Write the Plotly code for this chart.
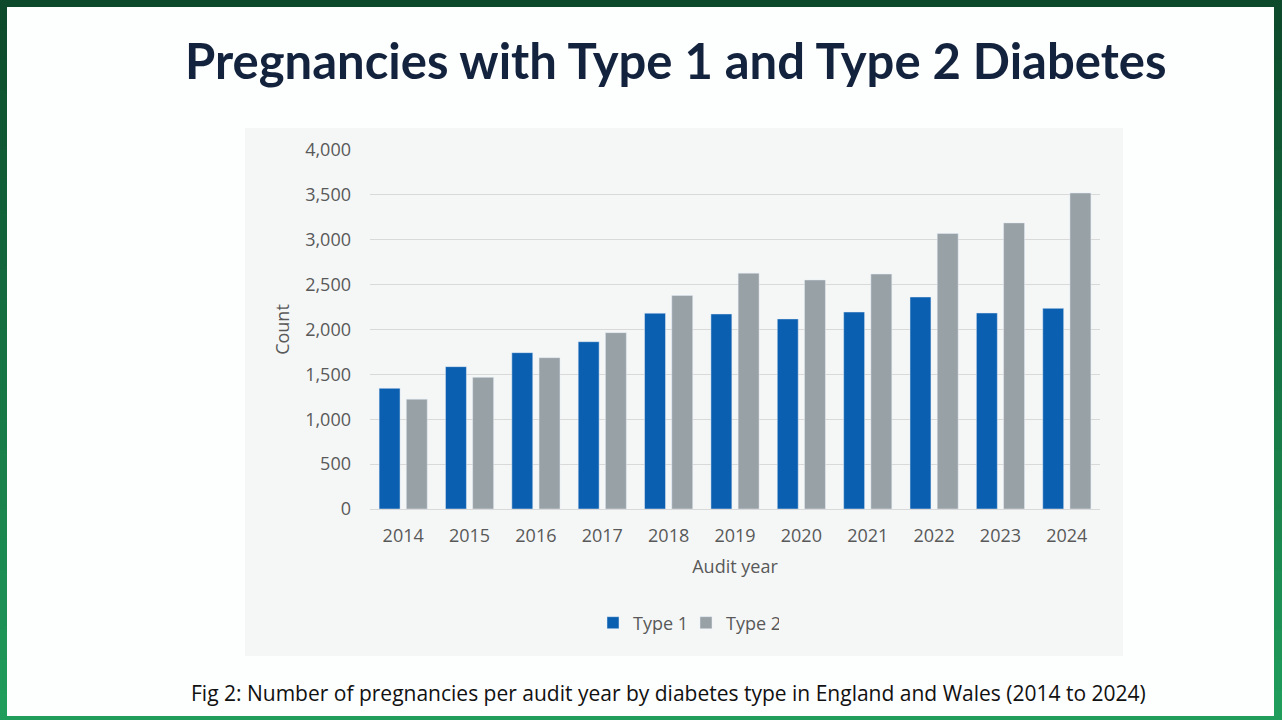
import plotly.graph_objects as go

years = ["2014", "2015", "2016", "2017", "2018", "2019", "2020", "2021", "2022", "2023", "2024"]
type1 = [1345, 1586, 1742, 1864, 2182, 2173, 2118, 2195, 2362, 2184, 2236]
type2 = [1224, 1467, 1686, 1965, 2380, 2628, 2552, 2618, 3070, 3188, 3521]
y_ticks = [0, 500, 1000, 1500, 2000, 2500, 3000, 3500, 4000]

W, H = 1282, 720
PL, PR, PT, PB = 370, 1100, 150, 509  # plot area in pixels

def px(x):
    return (x - PL) / (PR - PL)

def py(y):
    return (PB - y) / (PB - PT)

fig = go.Figure()
fig.add_trace(go.Bar(x=years, y=type1, name="Type 1", marker_color="#0a5fb0"))
fig.add_trace(go.Bar(x=years, y=type2, name="Type 2", marker_color="#98a1a6"))

shapes = []
n = 24
def lerp(c1, c2, t):
    return "#%02x%02x%02x" % tuple(int(round(a + (b - a) * t)) for a, b in zip(c1, c2))
c_top = (12, 72, 42)
c_bot = (32, 158, 92)
for i in range(n):
    y0p = i * H / n
    y1p = (i + 1) * H / n
    col = lerp(c_top, c_bot, (i + 0.5) / n)
    shapes.append(dict(type="rect", xref="paper", yref="paper", x0=px(0), x1=px(W), y0=py(y1p), y1=py(y0p),
                       fillcolor=col, line_width=0, layer="below"))
# white slide
shapes.append(dict(type="rect", xref="paper", yref="paper", x0=px(7), x1=px(1274), y0=py(716), y1=py(7),
                   fillcolor="#fdfefe", line_width=0, layer="below"))
# chart background
shapes.append(dict(type="rect", xref="paper", yref="paper", x0=px(245), x1=px(1123), y0=py(656), y1=py(128),
                   fillcolor="#f5f7f7", line_width=0, layer="below"))

fig.update_layout(
    width=W, height=H,
    margin=dict(l=PL, r=W - PR, t=PT, b=H - PB, pad=0),
    paper_bgcolor="#fdfefe",
    plot_bgcolor="rgba(0,0,0,0)",
    shapes=shapes,
    barmode="group",
    bargap=0.18,
    bargroupgap=0.23,
    font=dict(family="Open Sans", size=18, color="#595959"),
    showlegend=True,
    legend=dict(orientation="h", x=px(686), xanchor="center", y=py(623), yanchor="middle",
                font=dict(family="Open Sans", size=18, color="#595959"), bgcolor="rgba(0,0,0,0)",
                traceorder="normal", entrywidth=48),
    annotations=[
        dict(text="<b>Pregnancies with Type 1 and Type 2 Diabetes</b>", xref="paper", yref="paper",
             x=px(675), y=py(60), xanchor="center", yanchor="middle", showarrow=False,
             font=dict(family="Lato", size=49, color="#14233d")),
        dict(text="Fig 2: Number of pregnancies per audit year by diabetes type in England and Wales (2014 to 2024)",
             xref="paper", yref="paper", x=px(668), y=py(693), xanchor="center", yanchor="middle",
             showarrow=False, font=dict(family="Open Sans", size=21, color="#111111")),
    ],
)
fig.update_xaxes(
    type="category", showgrid=False, showline=False, ticks="", ticklabelstandoff=14,
    title=dict(text="Audit year", standoff=14, font=dict(size=18, color="#595959")),
    tickfont=dict(size=18, color="#595959"),
)
fig.update_yaxes(
    range=[0, 4000], tickvals=y_ticks, tickformat=",", showgrid=True, gridcolor="#d9d9d9", gridwidth=1,
    zeroline=True, zerolinecolor="#d9d9d9", zerolinewidth=1, showline=False, ticks="", ticklabelstandoff=18,
    title=dict(text="Count", standoff=10, font=dict(size=18, color="#595959")),
    tickfont=dict(size=18, color="#595959"),
)

fig.write_html("out.html", config={"displayModeBar": False},
               post_script="document.body.style.margin='0';document.body.style.overflow='hidden';")
